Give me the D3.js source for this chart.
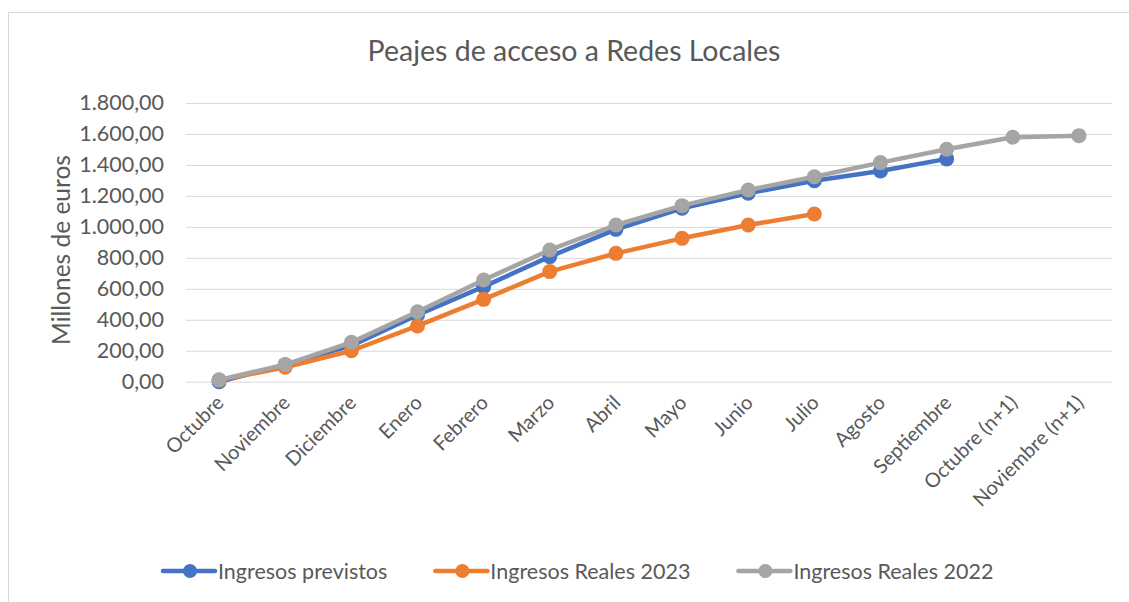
<!DOCTYPE html>
<head>
<meta charset="utf-8">
<style>
body {
  margin: 0;
  background: #fff;
}
text {
  font-family: Lato, "Open Sans", sans-serif;
  fill: #595959;
}
.grid line {
  stroke: #d9d9d9;
  stroke-width: 1px;
}
.serie path {
  fill: none;
  stroke-width: 4.5px;
  stroke-linejoin: round;
  stroke-linecap: round;
}
</style>
<title>Peajes de acceso a Redes Locales</title>
</head>
<body>
<script src="https://cdn.jsdelivr.net/npm/d3@7"></script>
<script>

var width = 1129,
    height = 602;

var meses = ["Octubre", "Noviembre", "Diciembre", "Enero", "Febrero", "Marzo", "Abril",
             "Mayo", "Junio", "Julio", "Agosto", "Septiembre", "Octubre (n+1)", "Noviembre (n+1)"];

var previstos  = [0, 110, 233, 431, 614, 808, 984, 1120, 1217, 1298, 1361, 1439, null, null];
var reales2023 = [10, 93, 200, 360, 532, 711, 829, 926, 1012, 1083, null, null, null, null];
var reales2022 = [12, 110, 254, 452, 657, 851, 1012, 1137, 1238, 1324, 1415, 1501, 1579, 1589];

var yTicks = [0, 200, 400, 600, 800, 1000, 1200, 1400, 1600, 1800];

var series = [
  { nombre: "Ingresos previstos", valores: previstos, color: "#4472c4" },
  { nombre: "Ingresos Reales 2023", valores: reales2023, color: "#ed7d31" },
  { nombre: "Ingresos Reales 2022", valores: reales2022, color: "#a5a5a5" }
];

var fmt = d3.formatLocale({ decimal: ",", thousands: ".", grouping: [3], currency: ["", "€"] }).format(",.2f");

var svg = d3.select("body").append("svg")
    .attr("width", width)
    .attr("height", height);

// marco del gráfico
svg.append("rect")
    .attr("x", 8.5).attr("y", 12.5)
    .attr("width", width + 20).attr("height", height + 20)
    .attr("fill", "none")
    .attr("stroke", "#d9d9d9");

var x = d3.scaleBand().domain(meses).range([186, 1112]);
var y = d3.scaleLinear().domain([0, 1800]).range([381.7, 103]);

function cx(d) { return x(d) + x.bandwidth() / 2; }

svg.append("text")
    .attr("x", 574).attr("y", 61)
    .attr("text-anchor", "middle")
    .style("font-size", "28.5px")
    .text("Peajes de acceso a Redes Locales");

// rejilla y eje Y
var gy = svg.append("g")
    .attr("class", "grid")
    .attr("transform", "translate(186,0)")
    .call(d3.axisLeft(y).tickValues(yTicks).tickSize(-926).tickFormat(fmt).tickPadding(22));
gy.select(".domain").remove();
gy.selectAll("text").style("font-size", "21.5px").attr("fill", "#595959");

svg.append("text")
    .attr("transform", "translate(70,250)rotate(-90)")
    .attr("text-anchor", "middle")
    .style("font-size", "24.5px")
    .text("Millones de euros");

// etiquetas eje X
svg.append("g").selectAll("text")
    .data(meses)
  .enter().append("text")
    .attr("transform", function(d) { return "translate(" + (cx(d) + 6) + ",404)rotate(-45)"; })
    .attr("text-anchor", "end")
    .style("font-size", "20px")
    .text(function(d) { return d; });

// series
var line = d3.line()
    .defined(function(d) { return d != null; })
    .x(function(d, i) { return cx(meses[i]); })
    .y(function(d) { return y(d); });

var g = svg.selectAll(".serie")
    .data(series)
  .enter().append("g")
    .attr("class", "serie");

g.append("path")
    .attr("stroke", function(s) { return s.color; })
    .attr("d", function(s) { return line(s.valores); });

g.selectAll("circle")
    .data(function(s) {
      return s.valores.map(function(v, i) { return { v: v, mes: meses[i], color: s.color }; })
        .filter(function(d) { return d.v != null; });
    })
  .enter().append("circle")
    .attr("cx", function(d) { return cx(d.mes); })
    .attr("cy", function(d) { return y(d.v); })
    .attr("r", 7.5)
    .attr("fill", function(d) { return d.color; });

// leyenda
var lx = 163;
series.forEach(function(s) {
  var lg = svg.append("g").attr("transform", "translate(" + lx + ",571)");
  lg.append("line")
    .attr("x1", 0).attr("x2", 52)
    .attr("stroke", s.color).attr("stroke-width", 4.5).attr("stroke-linecap", "round");
  lg.append("circle").attr("cx", 27).attr("r", 7).attr("fill", s.color);
  var t = lg.append("text")
    .attr("x", 55).attr("y", 7.5)
    .style("font-size", "21.5px")
    .text(s.nombre);
  lx += 55 + t.node().getComputedTextLength() + 48;
});

</script>
</body>
